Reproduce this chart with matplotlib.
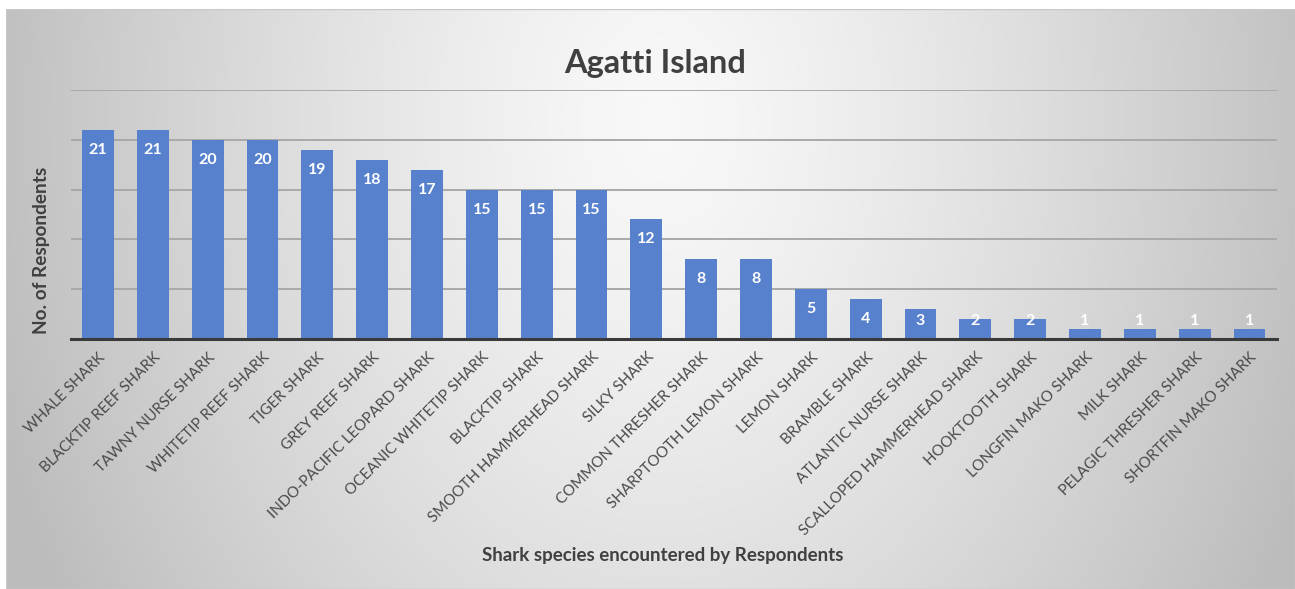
import numpy as np
import matplotlib
matplotlib.use("Agg")
import matplotlib.pyplot as plt
from matplotlib.patches import Rectangle

species = [
    "WHALE SHARK", "BLACKTIP REEF SHARK", "TAWNY NURSE SHARK", "WHITETIP REEF SHARK",
    "TIGER SHARK", "GREY REEF SHARK", "INDO-PACIFIC LEOPARD SHARK", "OCEANIC WHITETIP SHARK",
    "BLACKTIP SHARK", "SMOOTH HAMMERHEAD SHARK", "SILKY SHARK", "COMMON THRESHER SHARK",
    "SHARPTOOTH LEMON SHARK", "LEMON SHARK", "BRAMBLE SHARK", "ATLANTIC NURSE SHARK",
    "SCALLOPED HAMMERHEAD SHARK", "HOOKTOOTH SHARK", "LONGFIN MAKO SHARK", "MILK SHARK",
    "PELAGIC THRESHER SHARK", "SHORTFIN MAKO SHARK",
]
respondents = [21, 21, 20, 20, 19, 18, 17, 15, 15, 15, 12, 8, 8, 5, 4, 3, 2, 2, 1, 1, 1, 1]
grid_ticks = [0, 5, 10, 15, 20, 25]

title = "Agatti Island"
x_title = "Shark species encountered by Respondents"
y_title = "No. of Respondents"

W, H = 1295, 589
fig = plt.figure(figsize=(W / 100, H / 100), dpi=100)
fig.patch.set_facecolor("white")

# radial grey gradient panel behind the chart
bg = fig.add_axes([6 / W, 0, 1 - 6 / W, 1 - 9 / H])
bg.set_axis_off()
gx, gy = np.meshgrid(np.linspace(6, W, 400), np.linspace(9, H, 200))
r = np.sqrt(((gx - 660) / 660) ** 2 + ((gy - 120) / 900) ** 2)
shade = np.clip(0.975 - 0.22 * r ** 1.3, 0.74, 1)
bg.imshow(np.dstack([shade] * 3), aspect="auto", extent=[0, 1, 0, 1], origin="upper")
bg.set_xlim(0, 1)
bg.set_ylim(0, 1)
bg.add_patch(Rectangle((0, 0), 1, 1, fill=False, ec="#c8c8c8", lw=1.0, transform=bg.transAxes))

left, right = 70.6 / W, 1277 / W
bottom, top = (H - 339) / H, (H - 90) / H
ax = fig.add_axes([left, bottom, right - left, top - bottom])
ax.patch.set_alpha(0)

x = np.arange(len(species))
bar_color = "#5781CD"
ax.bar(x, respondents, width=0.58, color=bar_color, zorder=3)

ax.set_xlim(-0.5, len(species) - 0.5)
ax.set_ylim(0, 25)
ax.set_yticks(grid_ticks)
ax.yaxis.grid(True, color="#a9a9a9", lw=1.4, zorder=0)
ax.tick_params(axis="y", length=0, labelleft=False)
ax.tick_params(axis="x", length=0, pad=8)
for s in ["top", "right", "left"]:
    ax.spines[s].set_visible(False)
ax.spines["bottom"].set_color("#3a3a3a")
ax.spines["bottom"].set_linewidth(2.2)
ax.spines["bottom"].set_zorder(4)

font = "Lato"
ax.set_xticks(x)
ax.set_xticklabels(species, rotation=45, ha="right", va="top", rotation_mode="anchor",
                   fontsize=10.9, color="#4a4a4a", family=font)

for xi, v in zip(x, respondents):
    ax.text(xi, max(v - 2.0, 1.8), str(v), ha="center", va="center", color="white",
            fontsize=11.5, fontweight="bold", family=font, zorder=5)

fig.text(655 / W, 1 - 63 / H, title, ha="center", va="center", fontsize=23.5,
         fontweight="bold", color="#404040", family=font)
fig.text(663 / W, 1 - 555 / H, x_title, ha="center", va="center", fontsize=13.5,
         fontweight="bold", color="#404040", family=font)
fig.text(42 / W, 1 - 250 / H, y_title, ha="center", va="center", rotation=90,
         fontsize=13.7, fontweight="bold", color="#404040", family=font)

fig.savefig("out.png", dpi=100)
